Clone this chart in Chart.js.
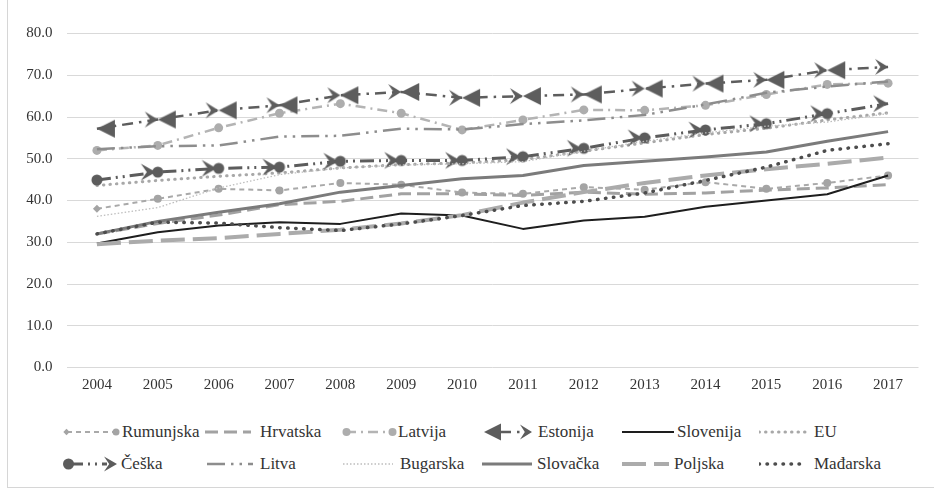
<!DOCTYPE html>
<html><head><meta charset="utf-8">
<script src="https://cdn.jsdelivr.net/npm/chart.js@4.4.1/dist/chart.umd.min.js"></script>
<style>
html,body{margin:0;padding:0;background:#fff;}
#wrap{position:relative;width:934px;height:489px;overflow:hidden;background:#fff;}
#chartBox{position:absolute;left:0;top:0;width:934px;height:405px;}
#frameL{position:absolute;left:7px;top:0;width:1px;height:488px;background:#d6d6d6;}
#frameB{position:absolute;left:7px;top:487px;width:927px;height:1px;background:#d6d6d6;}
.lg{position:absolute;font-family:"Liberation Serif","DejaVu Serif","Times New Roman",Times,serif;font-size:17px;color:#333;line-height:20px;white-space:nowrap;}
.sw{position:absolute;}
</style></head>
<body>
<div id="wrap">
  <div id="chartBox"><canvas id="c" width="934" height="405"></canvas></div>
  <div id="legend"></div>
  <div id="frameL"></div><div id="frameB"></div>
</div>
<script>
// ---------- DATA ----------
const years = ['2004','2005','2006','2007','2008','2009','2010','2011','2012','2013','2014','2015','2016','2017'];
const yTicks = [0, 10, 20, 30, 40, 50, 60, 70, 80];
const seriesNames = ['Rumunjska','Hrvatska','Latvija','Estonija','Slovenija','EU','Češka','Litva','Bugarska','Slovačka','Poljska','Mađarska'];

const rumunjska = [38.0, 40.4, 42.8, 42.4, 44.2, 43.8, 41.9, 41.6, 43.2, 42.6, 44.4, 42.8, 44.2, 46.0];
const hrvatska  = [32.0, 34.5, 36.5, 39.0, 39.8, 41.6, 41.6, 41.2, 42.0, 41.5, 41.8, 42.5, 43.0, 43.8];
const latvija   = [52.0, 53.2, 57.4, 60.9, 63.2, 60.9, 56.9, 59.3, 61.7, 61.6, 62.8, 65.4, 67.8, 68.1];
const estonija  = [57.2, 59.4, 61.6, 62.8, 65.2, 66.0, 64.6, 65.0, 65.4, 66.8, 68.0, 68.9, 71.2, 72.0];
const slovenija = [29.7, 32.4, 34.0, 34.8, 34.4, 36.9, 36.4, 33.2, 35.2, 36.1, 38.5, 40.0, 41.5, 46.0];
const eu        = [43.6, 44.8, 45.8, 46.6, 47.8, 48.6, 49.0, 49.8, 51.8, 53.8, 55.8, 57.3, 59.3, 61.0];
const ceska     = [44.9, 46.8, 47.7, 48.0, 49.4, 49.6, 49.6, 50.5, 52.5, 55.0, 56.9, 58.4, 60.8, 63.2];
const litva     = [52.3, 53.0, 53.2, 55.3, 55.5, 57.2, 57.0, 58.3, 59.2, 60.5, 63.0, 65.8, 67.3, 68.5];
const bugarska  = [36.2, 38.3, 43.0, 46.2, 47.8, 48.5, 48.8, 49.3, 51.8, 54.2, 56.2, 57.8, 58.8, 60.8];
const slovacka  = [32.0, 35.0, 37.2, 39.2, 42.0, 43.6, 45.2, 46.0, 48.4, 49.4, 50.4, 51.6, 54.2, 56.5];
const poljska   = [29.5, 30.4, 31.0, 32.0, 33.0, 34.5, 36.5, 39.5, 42.0, 44.2, 46.0, 47.5, 48.8, 50.3];
const madarska  = [32.0, 34.8, 34.6, 33.5, 32.8, 34.4, 36.4, 38.8, 39.8, 41.8, 44.8, 48.0, 52.0, 53.6];

const seriesValues = [rumunjska, hrvatska, latvija, estonija, slovenija, eu, ceska, litva, bugarska, slovacka, poljska, madarska];

// ---------- MARKER SHAPES ----------
function mk(w, h, draw) { const c = document.createElement('canvas'); c.width = w; c.height = h; const g = c.getContext('2d'); draw(g, w / 2, h / 2); return c; }
function chevron(g, tx, cy, L, hh, col) { g.fillStyle = col; g.beginPath(); g.moveTo(tx, cy); g.lineTo(tx - L, cy - hh); g.lineTo(tx - L + L * 0.4, cy); g.lineTo(tx - L, cy + hh); g.closePath(); g.fill(); }
function triLeft(g, tx, cy, L, hh, col) { g.fillStyle = col; g.beginPath(); g.moveTo(tx, cy); g.lineTo(tx + L, cy - hh); g.lineTo(tx + L, cy + hh); g.closePath(); g.fill(); }
function dot(g, cx, cy, r, col) { g.fillStyle = col; g.beginPath(); g.arc(cx, cy, r, 0, Math.PI * 2); g.fill(); }
function diamond(g, cx, cy, r, col) { g.fillStyle = col; g.beginPath(); g.moveTo(cx - r, cy); g.lineTo(cx, cy - r); g.lineTo(cx + r, cy); g.lineTo(cx, cy + r); g.closePath(); g.fill(); }

const EST = '#5d5d5d', CES = '#5c5c5c';
const estMid   = mk(40, 22, (g, x, y) => { chevron(g, x, y, 13, 8, EST); triLeft(g, x, y, 18, 9, EST); });
const estFirst = mk(40, 22, (g, x, y) => { triLeft(g, x, y, 18, 9, EST); });
const estLast  = mk(40, 22, (g, x, y) => { chevron(g, x, y, 13, 8, EST); });
const cesMid   = mk(36, 22, (g, x, y) => { chevron(g, x - 2, y, 15, 8.5, CES); dot(g, x, y, 5.5, CES); });
const cesFirst = mk(36, 22, (g, x, y) => { dot(g, x, y, 5.5, CES); });
const cesLast  = mk(36, 22, (g, x, y) => { chevron(g, x, y, 15, 8.5, CES); });

const lastIdx = years.length - 1;
function pick(first, mid, last) { return ctx => ctx.dataIndex === 0 ? first : (ctx.dataIndex === lastIdx ? last : mid); }

// ---------- STYLES ----------
const styles = [
  { color: '#a9a9a9', width: 2,   dash: [5, 4],                 pointStyle: pick('rectRot', 'circle', 'circle'), radius: 4, pointColor: '#a4a4a4' },
  { color: '#a2a2a2', width: 3,   dash: [13, 6] },
  { color: '#b4b4b4', width: 2.5, dash: [10, 5, 2, 5],          pointStyle: 'circle', radius: 4.5, pointColor: '#adadad' },
  { color: EST,       width: 2.5, dash: [11, 6, 2.5, 6],        pointStyle: pick(estFirst, estMid, estLast), radius: 6 },
  { color: '#1e1e1e', width: 2,   dash: [] },
  { color: '#a8a8a8', width: 3,   dash: [0.5, 6], cap: 'round' },
  { color: CES,       width: 3,   dash: [14, 5, 2, 5, 2, 5],    pointStyle: pick(cesFirst, cesMid, cesLast), radius: 6 },
  { color: '#8d8d8d', width: 2.5, dash: [18, 6, 2.5, 6, 2.5, 6] },
  { color: '#bdbdbd', width: 1.3, dash: [1.5, 2] },
  { color: '#7b7b7b', width: 3,   dash: [] },
  { color: '#ababab', width: 4,   dash: [24, 8] },
  { color: '#4d4d4d', width: 3.5, dash: [0.5, 7.5], cap: 'round' }
];

const datasets = seriesNames.map((name, i) => {
  const s = styles[i];
  return {
    label: name,
    data: seriesValues[i],
    borderColor: s.color,
    backgroundColor: s.pointColor || s.color,
    borderWidth: s.width,
    borderDash: s.dash,
    borderCapStyle: s.cap || 'butt',
    borderJoinStyle: 'round',
    tension: 0,
    fill: false,
    pointStyle: s.pointStyle || 'circle',
    pointRadius: s.pointStyle ? s.radius : 0,
    pointBorderWidth: 0,
    pointBackgroundColor: s.pointColor || s.color,
    pointBorderColor: s.pointColor || s.color,
    pointHoverRadius: s.pointStyle ? s.radius : 0,
    order: seriesNames.length - i
  };
});

const tickFont = { family: '"Liberation Serif", "DejaVu Serif", "Times New Roman", Times, serif', size: 15 };

new Chart(document.getElementById('c'), {
  type: 'line',
  data: { labels: years, datasets },
  options: {
    responsive: false,
    devicePixelRatio: 1,
    animation: false,
    events: [],
    layout: { padding: { left: 0, right: 15.5, top: 33.5, bottom: 0 } },
    plugins: { legend: { display: false }, tooltip: { enabled: false } },
    scales: {
      x: {
        type: 'category',
        offset: true,
        grid: { display: false, drawTicks: false },
        border: { display: false },
        ticks: { font: tickFont, color: '#333', padding: 9, maxRotation: 0, autoSkip: false },
        afterFit: s => { s.height = 37.5; }
      },
      y: {
        min: 0, max: 80,
        afterBuildTicks: s => { s.ticks = yTicks.map(v => ({ value: v })); },
        grid: { color: '#d9d9d9', lineWidth: 1, drawTicks: false },
        border: { display: false },
        ticks: { font: tickFont, color: '#333', padding: 14, callback: v => Number(v).toFixed(1) },
        afterFit: s => { s.width = 66.5; }
      }
    }
  }
});

// ---------- HTML LEGEND ----------
const legendLayout = [
  { sx: 63,  sw: 57, tx: 122, row: 0 }, { sx: 205, sw: 46, tx: 260, row: 0 }, { sx: 342, sw: 55, tx: 398, row: 0 },
  { sx: 484, sw: 48, tx: 538, row: 0 }, { sx: 622, sw: 52, tx: 677, row: 0 }, { sx: 759, sw: 48, tx: 814, row: 0 },
  { sx: 63,  sw: 54, tx: 121, row: 1 }, { sx: 207, sw: 46, tx: 260, row: 1 }, { sx: 343, sw: 50, tx: 400, row: 1 },
  { sx: 482, sw: 50, tx: 537, row: 1 }, { sx: 622, sw: 47, tx: 674, row: 1 }, { sx: 759, sw: 48, tx: 814, row: 1 }
];
const rowY = [432, 464];
const lg = document.getElementById('legend');
seriesNames.forEach((name, i) => {
  const L = legendLayout[i], s = styles[i];
  const cv = document.createElement('canvas');
  cv.width = L.sw; cv.height = 22; cv.className = 'sw';
  cv.style.left = L.sx + 'px'; cv.style.top = (rowY[L.row] - 11) + 'px';
  const g = cv.getContext('2d'); const cy = 11;
  let x0 = 0, x1 = L.sw;
  if (i === 0) { x0 = 4; x1 = L.sw - 4; }
  if (i === 2) { x0 = 4; x1 = L.sw - 4; }
  if (i === 3) { x0 = 16; x1 = L.sw - 10; }
  if (i === 6) { x0 = 6; x1 = L.sw - 10; }
  g.strokeStyle = s.color; g.lineWidth = s.width; g.setLineDash(s.dash); g.lineCap = s.cap || 'butt';
  g.beginPath(); g.moveTo(x0, cy); g.lineTo(x1, cy); g.stroke();
  g.setLineDash([]);
  if (i === 0) { diamond(g, 3.5, cy, 3.2, '#a4a4a4'); dot(g, L.sw - 4, cy, 3.5, '#a4a4a4'); }
  if (i === 2) { dot(g, 4.5, cy, 4, '#adadad'); dot(g, L.sw - 4.5, cy, 4, '#adadad'); }
  if (i === 3) { triLeft(g, 0, cy, 17, 8.5, EST); chevron(g, L.sw, cy, 12, 7.5, EST); }
  if (i === 6) { dot(g, 5.5, cy, 5.5, CES); chevron(g, L.sw, cy, 13, 7.5, CES); }
  lg.appendChild(cv);
  const t = document.createElement('div');
  t.className = 'lg'; t.textContent = name;
  t.style.left = L.tx + 'px'; t.style.top = (rowY[L.row] - 10) + 'px';
  lg.appendChild(t);
});
</script>
</body></html>
